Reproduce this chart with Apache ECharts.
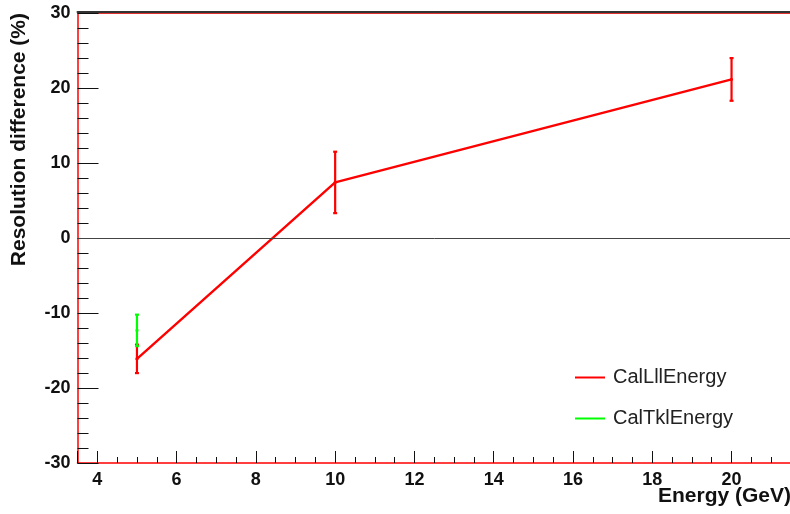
<!DOCTYPE html>
<html>
<head>
<meta charset="utf-8">
<script src="https://cdn.jsdelivr.net/npm/echarts@6/dist/echarts.min.js"></script>
<style>
  html, body { margin: 0; padding: 0; background: #ffffff; }
  #chart { width: 790px; height: 514px; }
</style>
</head>
<body>
<div id="chart"></div>
<script>
// Resolution difference vs. energy, with symmetric error bars
const lllEnergies = [5, 10, 20];
const lllValues   = [-16.1, 7.45, 21.2];
const lllErrors   = [1.9, 4.1, 2.85];

const tklEnergies = [5];
const tklValues   = [-12.3];
const tklErrors   = [2.1];

const seriesNames = ['CalLllEnergy', 'CalTklEnergy'];
const yTicks = [-30, -20, -10, 0, 10, 20, 30];

const FONT = '"Liberation Sans", Arial, Helvetica, sans-serif';

function points(xs, ys) {
  return xs.map((x, i) => [x, ys[i]]);
}
function bars(xs, ys, es) {
  return xs.map((x, i) => [x, ys[i] - es[i], ys[i] + es[i], ys[i]]);
}

// vertical error bar with small caps and a centre mark
function errorBar(color) {
  return function (params, api) {
    const x = api.value(0);
    const top = api.coord([x, api.value(2)]);
    const bot = api.coord([x, api.value(1)]);
    const mid = api.coord([x, api.value(3)]);
    const cap = 2;
    const style = { stroke: color, lineWidth: 2.2 };
    return {
      type: 'group',
      children: [
        { type: 'line', shape: { x1: top[0], y1: top[1], x2: bot[0], y2: bot[1] }, style },
        { type: 'line', shape: { x1: top[0] - cap, y1: top[1], x2: top[0] + cap, y2: top[1] }, style },
        { type: 'line', shape: { x1: bot[0] - cap, y1: bot[1], x2: bot[0] + cap, y2: bot[1] }, style },
        { type: 'line', shape: { x1: mid[0] - 1.5, y1: mid[1], x2: mid[0] + 1.5, y2: mid[1] }, style }
      ]
    };
  };
}

const chart = echarts.init(document.getElementById('chart'), null, { renderer: 'canvas' });

const xMin = 3.5, xMax = 21.5;
const tickLabelStyle = { fontFamily: FONT, fontWeight: 'bold', fontSize: 18, color: '#111' };

const option = {
  animation: false,
  backgroundColor: '#ffffff',
  grid: {
    left: 77.5, top: 13.5, width: 713.5, height: 449.5,
    containLabel: false, outerBoundsMode: 'none'
  },
  xAxis: [
    { // major ticks and labels
      type: 'value', position: 'bottom', min: xMin, max: xMax,
      splitNumber: 9, minInterval: 2, maxInterval: 2,
      axisLine: { show: true, onZero: false, lineStyle: { color: '#ff0000', width: 1.5 } },
      axisTick: { show: true, inside: true, length: 12, lineStyle: { color: '#111', width: 1 } },
      axisLabel: {
        ...tickLabelStyle, margin: 8,
        formatter: v => (Math.abs(v - Math.round(v)) < 1e-9 && Math.round(v) % 2 === 0) ? String(Math.round(v)) : ''
      },
      splitLine: { show: false }
    },
    { // minor ticks
      type: 'value', position: 'bottom', min: xMin, max: xMax, interval: 0.5,
      axisLine: { show: false, onZero: false },
      axisTick: { show: true, inside: true, length: 6, lineStyle: { color: '#111', width: 1 } },
      axisLabel: { show: false },
      splitLine: { show: false }
    },
    { // upper frame, red
      type: 'value', position: 'top', min: xMin, max: xMax,
      axisLine: { show: true, onZero: false, lineStyle: { color: '#e03030', width: 1 } },
      axisTick: { show: false }, axisLabel: { show: false }, splitLine: { show: false }
    },
    { // upper frame, dark
      type: 'value', position: 'top', offset: 1.5, min: xMin, max: xMax,
      axisLine: { show: true, onZero: false, lineStyle: { color: '#333', width: 2 } },
      axisTick: { show: false }, axisLabel: { show: false }, splitLine: { show: false }
    }
  ],
  yAxis: [
    {
      type: 'value', position: 'left', min: yTicks[0], max: yTicks[yTicks.length - 1], interval: 10,
      axisLine: { show: true, onZero: false, lineStyle: { color: '#ff0000', width: 1.5 } },
      axisTick: { show: true, inside: true, length: 21, lineStyle: { color: '#111', width: 1 } },
      minorTick: { show: true, splitNumber: 5, length: 11, lineStyle: { color: '#111', width: 1 } },
      axisLabel: { ...tickLabelStyle, margin: 7 },
      splitLine: { show: false }
    }
  ],
  legend: {
    orient: 'vertical', left: 570, top: 362,
    itemWidth: 30, itemHeight: 2, itemGap: 20, icon: 'rect',
    data: seriesNames,
    textStyle: { fontFamily: FONT, fontSize: 20, color: '#222', lineHeight: 21, padding: [0, 0, 0, 3] }
  },
  series: [
    {
      name: seriesNames[0], type: 'line', xAxisIndex: 0, yAxisIndex: 0,
      data: points(lllEnergies, lllValues),
      showSymbol: false, symbol: 'none',
      lineStyle: { color: '#ff0000', width: 2.4 }, itemStyle: { color: '#ff0000' },
      z: 3,
      markLine: {
        silent: true, symbol: 'none', label: { show: false },
        lineStyle: { color: '#444', width: 1, type: 'solid' },
        data: [{ yAxis: 0 }]
      }
    },
    {
      name: seriesNames[1], type: 'line', xAxisIndex: 0, yAxisIndex: 0,
      data: points(tklEnergies, tklValues),
      showSymbol: false, symbol: 'none',
      lineStyle: { color: '#00ff00', width: 2.4 }, itemStyle: { color: '#00ff00' },
      z: 3
    },
    {
      name: seriesNames[0], type: 'custom', xAxisIndex: 0, yAxisIndex: 0,
      renderItem: errorBar('#ff0000'),
      data: bars(lllEnergies, lllValues, lllErrors),
      encode: { x: 0, y: [1, 2] }, z: 4
    },
    {
      name: seriesNames[1], type: 'custom', xAxisIndex: 0, yAxisIndex: 0,
      renderItem: errorBar('#00ff00'),
      data: bars(tklEnergies, tklValues, tklErrors),
      encode: { x: 0, y: [1, 2] }, z: 5
    }
  ],
  graphic: [
    {
      type: 'text', x: 19, y: 13, rotation: Math.PI / 2,
      style: {
        text: 'Resolution difference (%)', fontFamily: FONT, fontWeight: 'bold', fontSize: 21,
        fill: '#111', align: 'right', verticalAlign: 'middle'
      }
    },
    {
      type: 'text', x: 791, y: 496,
      style: {
        text: 'Energy (GeV)', fontFamily: FONT, fontWeight: 'bold', fontSize: 21,
        fill: '#111', align: 'right', verticalAlign: 'middle'
      }
    }
  ]
};

chart.setOption(option);
</script>
</body>
</html>
